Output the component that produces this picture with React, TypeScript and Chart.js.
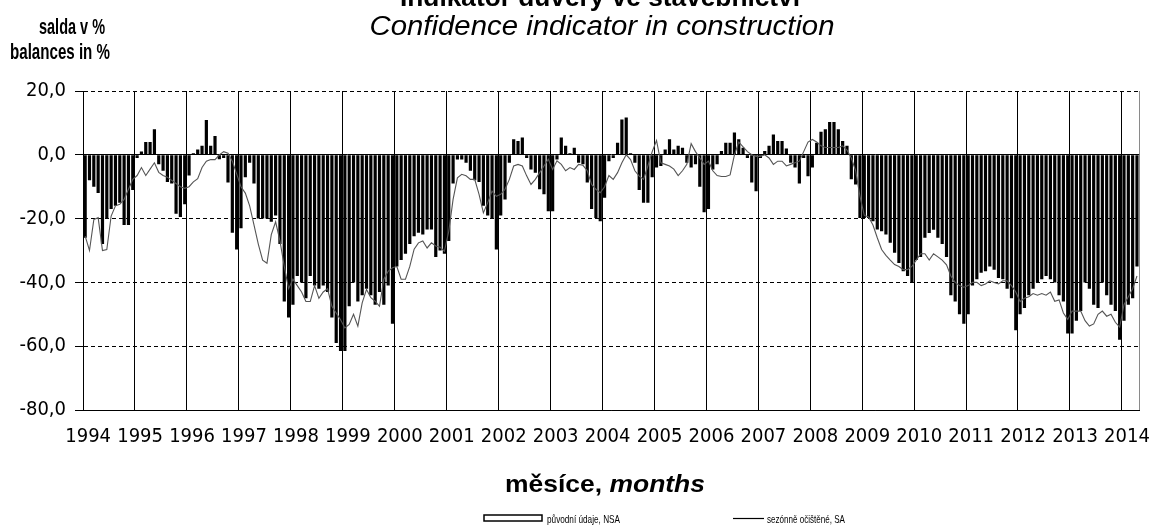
import React, { useEffect, useRef } from 'react';
import { Chart, registerables } from 'chart.js';

Chart.register(...registerables);

// ---- data -------------------------------------------------------------
const startYear = 1994;
const yearLabels = ['1994', '1995', '1996', '1997', '1998', '1999', '2000', '2001', '2002', '2003', '2004', '2005', '2006', '2007', '2008', '2009', '2010', '2011', '2012', '2013', '2014'];
const yTickValues = [20, 0, -20, -40, -60, -80];

// original data (NSA), monthly from 1994-01
const nsaValues = [
  -26, -8, -10, -12, -28, -20, -17, -16, -15, -22, -22, -11, // 1994
  -1, 1, 4, 4, 8, -3, -5, -8.5, -9, -18.5, -19.5, -15.5, // 1995
  -6.5, 0.5, 1.7, 2.8, 10.9, 2.8, 5.9, -1.4, -1, -8.7, -24.4, -29.7, // 1996
  -23, -7, -2.5, -9, -20, -20, -20, -21, -19, -28, -46, -51, // 1997
  -47, -38, -40, -45, -38, -41, -42, -41, -43, -51, -59, -61.5, // 1998
  -61.5, -47.5, -40, -46, -44, -42, -44, -47, -43, -47, -41, -53, // 1999
  -35, -33, -31, -28, -25.5, -24.4, -25, -23.4, -23.4, -32, -30, -31, // 2000
  -27, -9, -1.5, -1.5, -2.5, -5, -8, -8.5, -16, -19, -20, -29.7, // 2001
  -19, -14, -2.5, 4.9, 4.3, 5.4, -1, -4.6, -5.6, -10.8, -12.4, -17.7, // 2002
  -17.7, -1.5, 5.4, 2.8, 0.5, 2.2, -2.5, -3, -8.7, -17, -19.8, -20.8, // 2003
  -13.5, -2, -1, 3.8, 11.1, 11.7, 0.5, -2.5, -11, -15, -15, -7, // 2004
  -4, -3.5, 1.7, 4.9, 1.7, 2.8, 2.2, -2.5, -4, -3, -10, -18, // 2005
  -17, -4.6, -3, 1.2, 3.8, 3.8, 7, 4.9, 2.2, -1, -8.7, -11.4, // 2006
  -1, 1.2, 2.8, 6.4, 4.3, 4.3, 2, -2.5, -4, -9, -1, -6.7, // 2007
  -4, 3.8, 7.2, 8, 10.3, 10.3, 8, 4.3, 2.8, -7.7, -9.3, -19.8, // 2008
  -19.8, -19.8, -20.8, -23.4, -24, -25, -27.6, -30.7, -33.9, -36.5, -38, -40.2, // 2009
  -33, -32, -26, -24.5, -23.5, -26, -28, -32, -44, -46, -50, -53, // 2010
  -50, -41, -39, -37, -36.5, -35, -36, -38.6, -39, -42, -45, -55, // 2011
  -50, -48, -44, -42, -40, -39, -38, -39, -40, -44, -46, -56, // 2012
  -56, -52, -49, -40, -42, -47, -48, -40, -44, -47, -49, -58, // 2013
  -52, -47, -45, -35, // 2014
];

// seasonally adjusted (SA)
const saValues = [
  -25.5, -30, -20.3, -19.7, -30, -29.7, -19.2, -16, -15.5, -14, -10.8, -7.7, // 1994
  -6.5, -4, -6.5, -4.5, -2.5, -5.5, -6.5, -7, -8, -9, -10, -10.5, // 1995
  -10, -8.5, -7.5, -4, -2, -1.5, -1.5, 0, 1, 0.5, -2, -6, // 1996
  -10, -12, -16, -22, -28, -33, -34, -25, -21, -27, -35, -42, // 1997
  -39, -41, -43, -46, -46, -41, -45, -43, -42, -47.5, -49.6, -51.7, // 1998
  -54.3, -53.2, -50, -53.7, -46.4, -42.2, -44.8, -45.9, -47.5, -39, -36.5, -35.4, // 1999
  -35, -39, -39, -35, -29.6, -27.6, -27, -29.2, -27.6, -28.6, -29, -30.2, // 2000
  -24, -14, -7.2, -6.1, -6.6, -7.7, -7.7, -12.4, -18.2, -15, -11.4, -13, // 2001
  -12.4, -10.8, -7.7, -3.5, -3, -3.5, -6.6, -9.3, -7.7, -5.6, -3.5, -1.4, // 2002
  -4.6, -1.9, -3, -5, -4, -4.6, -3, -3.3, -5, -9.3, -10.8, -11.9, // 2003
  -10, -6.5, -7.7, -5.6, -2.5, 0, -1.5, -5, -6.7, -7.7, -3.5, 1, // 2004
  4.5, -2.5, -3, -3.5, -4.5, -6.5, -5, -3, 3.5, 1, -1, -3, // 2005
  -2, -5, -6.5, -6.8, -6.8, -6.3, 0, 4, 2.5, 1, 0, -0.5, // 2006
  -0.5, 0, -1, -3, -2, -2, -3.5, -3, -2.5, -2, 1, 4, // 2007
  4.8, 4, 2.8, 2.3, 2.3, 2.3, 2.3, 2.8, 1.5, -1, -5, -13, // 2008
  -19, -19.5, -22, -26, -29.7, -31.5, -33, -34.4, -35, -36, -36, -35, // 2009
  -33, -31, -31, -33, -31, -32, -33, -34.5, -38, -40, -41, -41.5, // 2010
  -41, -40, -40, -41, -40.5, -39.5, -40, -40.5, -39.5, -39.5, -41, -43, // 2011
  -46, -45, -44.5, -43.5, -44, -43.5, -44, -43, -45.9, -45.5, -49.6, -51.6, // 2012
  -49, -49, -49, -52, -53.7, -53, -50, -49, -50.6, -50, -52.5, -54, // 2013
  -47, -44.5, -42, -38, // 2014
];

const titleCz = 'Indikátor důvěry ve stavebnictví';
const titleEn = 'Confidence indicator in construction';
const unitCz = 'salda v %';
const unitEn = 'balances in %';
const axisTitleCz = 'měsíce, ';
const axisTitleEn = 'months';
const legendNsa = 'původní údaje, NSA';
const legendSa = 'sezónně očištěné, SA';

const categories = nsaValues.map(
  (_, i) => `${startYear + Math.floor(i / 12)}-${String((i % 12) + 1).padStart(2, '0')}`
);

// ---- drawing helpers ---------------------------------------------------
const SANS = '"Liberation Sans", Arial, Helvetica, sans-serif';
const NARROW = '"Liberation Sans Narrow", "Arial Narrow", "DejaVu Sans Condensed", "Liberation Sans", sans-serif';

function drawFit(ctx: CanvasRenderingContext2D, text: string, font: string, x: number, y: number, width: number, align: 'center' | 'left' = 'center') {
  ctx.save();
  ctx.font = font;
  const w = ctx.measureText(text).width;
  const s = width / w;
  ctx.translate(x, y);
  ctx.scale(s, 1);
  ctx.textAlign = align;
  ctx.textBaseline = 'alphabetic';
  ctx.fillText(text, 0, 0);
  ctx.restore();
}

const textPlugin = {
  id: 'chartTexts',
  afterDraw(chart: any) {
    const ctx: CanvasRenderingContext2D = chart.ctx;
    ctx.save();
    ctx.fillStyle = '#000';
    // titles
    drawFit(ctx, titleCz, `bold 26px ${SANS}`, 600, 6, 400);
    drawFit(ctx, titleEn, `italic 27px ${SANS}`, 602, 35, 465);
    // unit label
    drawFit(ctx, unitCz, `bold 22px ${SANS}`, 72, 34, 66);
    drawFit(ctx, unitEn, `bold 22px ${SANS}`, 60, 59, 100);
    // x axis title (mixed styles)
    ctx.font = `bold 24px ${SANS}`;
    const w1 = ctx.measureText(axisTitleCz).width;
    ctx.font = `italic bold 24px ${SANS}`;
    const w2 = ctx.measureText(axisTitleEn).width;
    const total = w1 + w2;
    const sx = 200 / total;
    ctx.save();
    ctx.translate(605 - 100, 492);
    ctx.scale(sx, 1);
    ctx.textAlign = 'left';
    ctx.textBaseline = 'alphabetic';
    ctx.font = `bold 24px ${SANS}`;
    ctx.fillText(axisTitleCz, 0, 0);
    ctx.font = `italic bold 24px ${SANS}`;
    ctx.fillText(axisTitleEn, w1, 0);
    ctx.restore();
    // legend
    ctx.strokeStyle = '#000';
    ctx.lineWidth = 1.5;
    ctx.strokeRect(484, 515, 58, 6);
    drawFit(ctx, legendNsa, `11px ${SANS}`, 547, 523, 73, 'left');
    ctx.beginPath();
    ctx.lineWidth = 1.2;
    ctx.moveTo(733, 518.5);
    ctx.lineTo(764, 518.5);
    ctx.stroke();
    drawFit(ctx, legendSa, `11px ${SANS}`, 767, 523, 78, 'left');
    ctx.restore();
  },
};

export default function App() {
  const ref = useRef<HTMLCanvasElement>(null);

  useEffect(() => {
    document.body.style.margin = '0';
    const canvas = ref.current;
    if (!canvas) return;
    const chart = new Chart(canvas, {
      data: {
        labels: categories,
        datasets: [
          {
            type: 'line',
            label: legendSa,
            data: saValues,
            borderColor: '#555555',
            borderWidth: 1.1,
            pointRadius: 0,
            tension: 0,
            fill: false,
            order: 0,
          },
          {
            type: 'bar',
            label: legendNsa,
            data: nsaValues,
            backgroundColor: '#000',
            borderWidth: 0,
            barPercentage: 0.74,
            categoryPercentage: 1,
            order: 1,
          },
        ],
      },
      options: {
        responsive: false,
        animation: false,
        devicePixelRatio: 1,
        layout: { padding: { top: 91, left: 0, right: 9, bottom: 0 } },
        plugins: {
          legend: { display: false },
          title: { display: false },
          tooltip: { enabled: false },
        },
        scales: {
          x: {
            type: 'category',
            offset: true,
            grid: {
              offset: true,
              drawTicks: false,
              lineWidth: 1,
              color: (c: any) =>
                c.type !== 'tick' ? '#8a8a8a' : c.index % 12 === 0 ? '#000' : 'rgba(0,0,0,0)',
            },
            border: { display: true, color: '#000', width: 1 },
            ticks: {
              autoSkip: false,
              maxRotation: 0,
              minRotation: 0,
              padding: 15,
              labelOffset: 3,
              color: '#000',
              font: { family: NARROW, size: 20 },
              callback: (_v: any, i: number) => (i % 12 === 0 ? yearLabels[i / 12] : ''),
            },
            afterFit: (s: any) => {
              s.height = 119;
            },
          },
          y: {
            min: -80,
            max: 20,
            afterBuildTicks: (s: any) => {
              s.ticks = yTickValues.map((v) => ({ value: v }));
            },
            ticks: {
              color: '#000',
              padding: 9,
              font: { family: NARROW, size: 20 },
              callback: (v: any) => Number(v).toFixed(1).replace('.', ','),
            },
            grid: {
              color: '#000',
              lineWidth: 1,
              drawTicks: true,
              tickLength: 8,
              tickColor: '#000',
              tickBorderDash: [],
            },
            border: {
              display: true,
              color: '#000',
              width: 1,
              dash: (c: any) => (c.tick && c.tick.value !== 0 && c.tick.value !== -80 ? [4, 3] : []),
            },
            afterFit: (s: any) => {
              s.width = 83;
            },
          },
        },
      },
      plugins: [textPlugin],
    } as any);
    return () => chart.destroy();
  }, []);

  return (
    <div style={{ width: 1152, height: 529, background: '#fff' }}>
      <canvas ref={ref} width={1152} height={529} style={{ display: 'block', width: 1152, height: 529 }} />
    </div>
  );
}
